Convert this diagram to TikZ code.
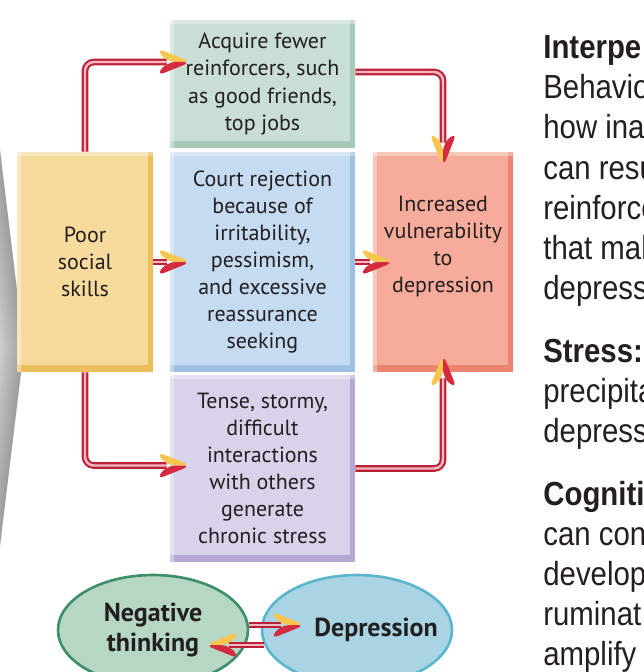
\documentclass[tikz,border=0pt]{standalone}
\usepackage{fontspec}
\setmainfont{PT Sans}
\newfontfamily\sidefont[FakeStretch=0.88]{Liberation Sans}
\usetikzlibrary{positioning,shapes.geometric,decorations.markings}

\definecolor{fillgreen}{HTML}{C9DED4}
\definecolor{edgegreen}{HTML}{A8C9BA}
\definecolor{fillblue}{HTML}{C5DBF1}
\definecolor{edgeblue}{HTML}{9FC0E0}
\definecolor{fillpurple}{HTML}{D8D2EA}
\definecolor{edgepurple}{HTML}{B5A8D6}
\definecolor{fillyellow}{HTML}{F7DB9C}
\definecolor{edgeyellow}{HTML}{ECBE5C}
\definecolor{fillred}{HTML}{F7AB9B}
\definecolor{edgered}{HTML}{EC8570}
\definecolor{linkred}{HTML}{BC2236}
\definecolor{linkpink}{HTML}{F3B8C2}
\definecolor{headyel}{HTML}{F6C64E}
\definecolor{headred}{HTML}{D42B3F}
\definecolor{negfill}{HTML}{B7D7C5}
\definecolor{negline}{HTML}{3E8E6A}
\definecolor{depfill}{HTML}{A9D4E4}
\definecolor{depline}{HTML}{5BB5CD}
\definecolor{ink}{HTML}{231F20}

% arrow heads, tip 14pt past the end of the line
% yellow half on the left (A) or on the right (B) of the direction
\newcommand\headA{%
  \fill[headyel] (14pt,0pt) -- (-6pt,8pt) -- (0pt,0pt) -- cycle;
  \fill[headred] (14pt,0pt) -- (-6pt,-8pt) -- (0pt,0pt) -- cycle;}
\newcommand\headB{%
  \fill[headyel] (14pt,0pt) -- (-6pt,-8pt) -- (0pt,0pt) -- cycle;
  \fill[headred] (14pt,0pt) -- (-6pt,8pt) -- (0pt,0pt) -- cycle;}

\tikzset{
  box/.style 2 args={fill=#1, inner sep=0pt, align=center, text=ink,
    font=\fontsize{12.5}{15.4}\selectfont,
    path picture={
      \fill[#2] (path picture bounding box.south west) rectangle ([yshift=4pt]path picture bounding box.south east);
      \fill[#2] (path picture bounding box.north east) rectangle ([xshift=-3pt]path picture bounding box.south east);
      \fill[white, opacity=.35] (path picture bounding box.north west) rectangle ([yshift=-2pt]path picture bounding box.north east);
      \fill[white, opacity=.35] (path picture bounding box.north west) rectangle ([xshift=2pt]path picture bounding box.south west);
    }},
  oval/.style 2 args={ellipse, fill=#1, draw=#2, line width=1.5pt, inner sep=0pt,
    minimum width=3.8cm, minimum height=2.2cm, align=center, text=ink,
    font=\bfseries\fontsize{14.8}{17.5}\selectfont},
  conn/.style={draw=linkred, double=linkpink, double distance=1.4pt, line width=1.2pt,
    rounded corners=5pt},
  linkA/.style={conn, postaction={decorate, decoration={markings, mark=at position 1 with {\headA}}}},
  linkB/.style={conn, postaction={decorate, decoration={markings, mark=at position 1 with {\headB}}}},
  side/.style={anchor=base west, inner sep=0pt, text=ink,
    font=\sidefont\fontsize{19}{22}\selectfont},
}

\begin{document}
\begin{tikzpicture}[x=0.02cm, y=-0.02cm]
  \useasboundingbox (0,0) rectangle (643,672);
  \clip (0,0) rectangle (643,672);

  % soft shadow of the chevron at the left
  \foreach \k in {1,...,20}
    \fill[black, opacity=.025] (-40,-180) -- (24,348) -- (-40,876)
      -- ({-40-2*\k},876) -- ({24-2*\k},348) -- ({-40-2*\k},-180) -- cycle;

  \node[box={fillgreen}{edgegreen}, minimum width=3.7cm, minimum height=2.56cm] (fewer) at (262.5,84)
    {Acquire fewer\\reinforcers, such\\as good friends,\\top jobs};
  \node[box={fillblue}{edgeblue}, minimum width=3.7cm, minimum height=4.4cm] (court) at (262.5,262)
    {Court rejection\\because of\\irritability,\\pessimism,\\and excessive\\reassurance\\seeking};
  \node[box={fillpurple}{edgepurple}, minimum width=3.7cm, minimum height=3.74cm] (tense) at (262.5,468.5)
    {Tense, stormy,\\difficult\\interactions\\with others\\generate\\chronic stress};
  \node[box={fillyellow}{edgeyellow}, minimum width=2.72cm, minimum height=4.4cm] (poor) at (85,262)
    {Poor\\social\\skills};
  \node[box={fillred}{edgered}, minimum width=2.8cm, minimum height=4.4cm, text depth=20pt] (vuln) at (443,262)
    {Increased\\vulnerability\\to\\depression};

  \node[oval={negfill}{negline}] (negthink) at (153,630) {Negative\\thinking};
  \node[oval={depfill}{depline}] (depr) at (357,630) {\makebox[0pt]{\hspace*{0.76cm}Depression}};

  \draw[linkA] (poor.north) |- ([shift={(-3,-22)}]fewer.west);
  \draw[linkA] (poor.east) -- ([shift={(-3,0)}]court.west);
  \draw[linkA] (poor.south) |- ([shift={(-3,-3)}]tense.west);
  \draw[linkB] ([shift={(0,-12)}]fewer.east) -| ([shift={(0,-9)}]vuln.north);
  \draw[linkA] (court.east) -- ([shift={(-3,0)}]vuln.west);
  \draw[linkA] (tense.east) -| ([shift={(0,6)}]vuln.south);
  \draw[linkA] ([shift={(0,-5)}]negthink.east) -- ([shift={(20,-5)}]depr.west);
  \draw[linkB] ([shift={(3,15)}]depr.west) -- ([shift={(-20,15)}]negthink.east);

  % text column on the right
  \node[side] (p1) at (543,59) {\bfseries Interpe};
  \node[side] (p2) at (543,99) {Behavio};
  \node[side] (p3) at (543,139) {how ina};
  \node[side] (p4) at (543,179) {can resu};
  \node[side] (p5) at (543,219) {reinforce};
  \node[side] (p6) at (543,259) {that mak};
  \node[side] (p7) at (543,299) {depress};
  \node[side] (s1) at (543,362) {\bfseries Stress:};
  \node[side] (s2) at (543,402) {precipita};
  \node[side] (s3) at (543,442) {depress};
  \node[side] (c1) at (543,505) {\bfseries Cogniti};
  \node[side] (c2) at (543,545) {can cont};
  \node[side] (c3) at (543,585) {develop};
  \node[side] (c4) at (543,625) {ruminat};
  \node[side] (c5) at (543,665) {amplify};
\end{tikzpicture}
\end{document}
